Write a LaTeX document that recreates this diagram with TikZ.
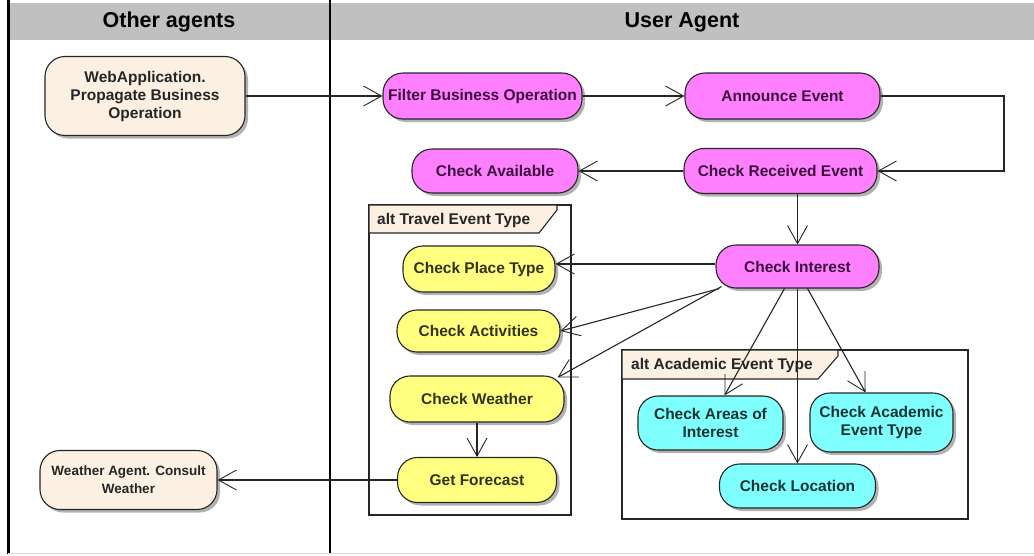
\documentclass[tikz,border=0pt]{standalone}
\usepackage{fontspec}
\setmainfont{Liberation Sans}
\usetikzlibrary{arrows.meta,shadows}
\definecolor{actmag}{HTML}{FF80FF}
\definecolor{actyel}{HTML}{FFFF80}
\definecolor{actcyan}{HTML}{80FFFF}
\definecolor{extcream}{HTML}{FBF0E1}
\definecolor{headgray}{HTML}{C0C0C0}
\definecolor{ink}{HTML}{262626}
\definecolor{magink}{HTML}{3C0F3C}
\definecolor{yelink}{HTML}{33330F}
\definecolor{cyanink}{HTML}{0F3333}

\begin{document}
\begin{tikzpicture}[x=1pt,y=-1pt,
  action/.style={draw=ink, line width=1.1pt, rounded corners=20pt, align=center,
    inner sep=0pt, font=\bfseries\fontsize{15.5}{18}\selectfont, text=ink,
    drop shadow={shadow xshift=3pt,shadow yshift=-3pt,fill=black,opacity=.3}},
  mag/.style={action, fill=actmag, text=magink},
  yel/.style={action, fill=actyel, text=yelink},
  cyan/.style={action, fill=actcyan, text=cyanink},
  other/.style={action, fill=extcream},
  lanehead/.style={font=\bfseries\fontsize{21.5}{24}\selectfont, text=black},
  frametab/.style={fill=extcream, draw=ink, line width=1.1pt},
  framebox/.style={draw=ink, line width=1.3pt},
  framelabel/.style={anchor=west, inner sep=0pt, font=\bfseries\fontsize{15.5}{18}\selectfont, text=ink},
  flow/.style={draw=ink, line width=1.1pt, -{Straight Barb[length=18pt,width=20pt,line width=0.9pt]}}
]
\useasboundingbox (0,0) rectangle (1034,555);

% swimlane header and lane borders
\fill[headgray] (8,3) rectangle (1034,40);
\draw[black, line width=3pt] (8,0) -- (8,554);
\draw[black, line width=1.6pt] (330,0) -- (330,554);
\draw[black!15, line width=1pt] (8,553) -- (1034,553);
\node[lanehead] (laneother) at (169,22) {Other agents};
\node[lanehead] (laneuser) at (682,22) {User Agent};

% alternative fragments
\draw[framebox] (369,205) rectangle (571,515);
\draw[frametab] (369,205) -- (557,205) -- (557,210) -- (539,233) -- (369,233) -- cycle;
\node[framelabel] (travellabel) at (377,220) {alt Travel Event Type};

\draw[framebox] (622,350) rectangle (968,519);
\draw[frametab] (622,350) -- (838,350) -- (838,356) -- (818,379) -- (622,379) -- cycle;
\node[framelabel] (academiclabel) at (631,365) {alt Academic Event Type};

% actions of the other agents
\node[other, minimum width=200pt, minimum height=79pt] (web) at (145,96)
  {WebApplication.\\Propagate Business\\Operation};
\node[other, minimum width=177pt, minimum height=59pt, font=\bfseries\fontsize{13.5}{18}\selectfont] (wagent) at (128.5,480)
  {Weather Agent. Consult\\Weather};

% actions of the user agent
\node[mag, minimum width=199pt, minimum height=46pt] (filter) at (482.5,96) {Filter Business Operation};
\node[mag, minimum width=195pt, minimum height=46pt] (announce) at (782.5,96) {Announce Event};
\node[mag, minimum width=166pt, minimum height=44pt] (avail) at (495,171) {Check Available};
\node[mag, minimum width=193pt, minimum height=45pt] (received) at (780.5,171) {Check Received Event};
\node[mag, minimum width=163pt, minimum height=43pt] (interest) at (797.5,266.5) {Check Interest};

\node[yel, minimum width=152pt, minimum height=46pt] (place) at (479,269) {Check Place Type};
\node[yel, minimum width=163pt, minimum height=42pt] (activities) at (478.5,331) {Check Activities};
\node[yel, minimum width=174pt, minimum height=46pt] (weather) at (477,399) {Check Weather};
\node[yel, minimum width=159pt, minimum height=45pt] (forecast) at (477,480) {Get Forecast};

\node[cyan, minimum width=145pt, minimum height=54pt] (areas) at (710.5,423) {Check Areas of\\Interest};
\node[cyan, minimum width=143pt, minimum height=59pt] (academic) at (881.5,422.5) {Check Academic\\Event Type};
\node[cyan, minimum width=156pt, minimum height=44pt] (location) at (797.5,486) {Check Location};

% control flow
\coordinate (loopa) at (1004,96);
\coordinate (loopb) at (1004,171);
\draw[flow] (web.east) -- (filter.west);
\draw[flow] (filter.east) -- (announce.west);
\draw[flow] (announce.east) -- (loopa) -- (loopb) -- (received.east);
\draw[flow] (received.west) -- (avail.east);
\draw[flow] (interest.north |- received.south) -- (interest.north);
\draw[flow] ([yshift=2.5pt]interest.west) -- ([yshift=5pt]place.east);
\draw[flow] ([xshift=4pt]interest.south west) -- (activities.east);
\draw[flow] ([xshift=6pt,yshift=2pt]interest.south west) -- ([xshift=-7pt,yshift=-2pt]weather.north east);
\draw[flow] ([xshift=-13pt]interest.south) -- ([xshift=14pt]areas.north);
\draw[flow] (interest.south) -- (location.north);
\draw[flow] ([xshift=10pt]interest.south) -- ([xshift=-16pt]academic.north);
\draw[flow] (weather.south) -- (forecast.north);
\draw[flow] (forecast.west) -- (wagent.east);
\end{tikzpicture}
\end{document}
